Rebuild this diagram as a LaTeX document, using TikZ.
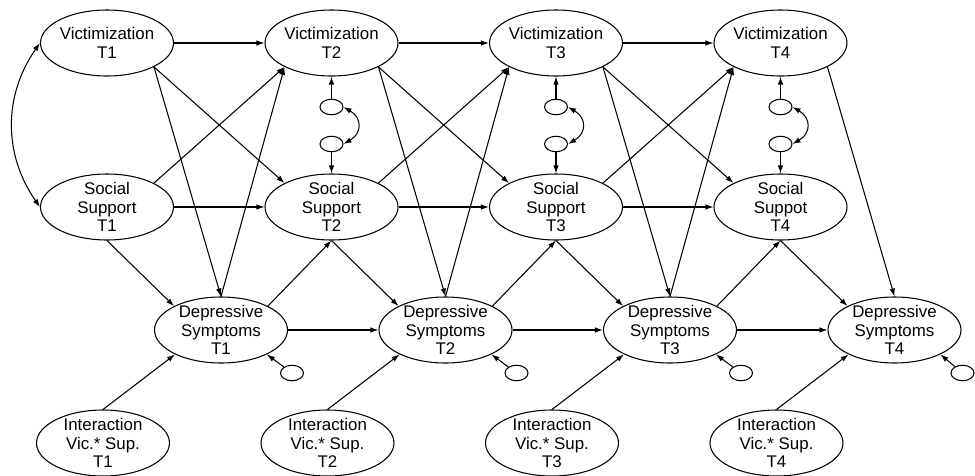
\documentclass[tikz,border=0pt]{standalone}
\usepackage{fontspec}
\setmainfont{Liberation Sans}
\usetikzlibrary{shapes.geometric,arrows.meta}
\tikzset{
	latent/.style={draw, ellipse, line width=0.6pt, inner xsep=-2pt, inner ysep=-4pt, minimum width=2.66cm, minimum height=1.32cm, align=center, font=\fontsize{9.6}{10.4}\selectfont},
	resid/.style={draw, ellipse, line width=0.6pt, inner sep=0pt, minimum width=0.46cm, minimum height=0.31cm},
	arr/.style={line width=0.6pt, -{Latex[length=1.6mm,width=1.1mm]}},
	covar/.style={line width=0.6pt, {Latex[length=1.6mm,width=1.1mm]}-{Latex[length=1.6mm,width=1.1mm]}}
}

\begin{document}
\begin{tikzpicture}
			%%%%% START %%%%%
			\useasboundingbox (0, 0) rectangle (19.5, -9.52);
			
			\node[latent] (vic1) at (2.14, -0.86) {Victimization\\T1};
			\node[latent] (vic2) at (6.63, -0.86) {Victimization\\T2};
			\node[latent] (vic3) at (11.12, -0.86) {Victimization\\T3};
			\node[latent] (vic4) at (15.61, -0.86) {Victimization\\T4};
			
			\node[latent] (sup1) at (2.14, -4.14) {Social\\Support\\T1};
			\node[latent] (sup2) at (6.63, -4.14) {Social\\Support\\T2};
			\node[latent] (sup3) at (11.12, -4.14) {Social\\Support\\T3};
			\node[latent] (sup4) at (15.61, -4.14) {Social\\Suppot\\T4};
			
			\node[latent] (dep1) at (4.42, -6.60) {Depressive\\Symptoms\\T1};
			\node[latent] (dep2) at (8.91, -6.60) {Depressive\\Symptoms\\T2};
			\node[latent] (dep3) at (13.40, -6.60) {Depressive\\Symptoms\\T3};
			\node[latent] (dep4) at (17.89, -6.60) {Depressive\\Symptoms\\T4};
			
			\node[latent] (int1) at (2.06, -8.86) {Interaction\\Vic.* Sup.\\T1};
			\node[latent] (int2) at (6.55, -8.86) {Interaction\\Vic.* Sup.\\T2};
			\node[latent] (int3) at (11.04, -8.86) {Interaction\\Vic.* Sup.\\T3};
			\node[latent] (int4) at (15.53, -8.86) {Interaction\\Vic.* Sup.\\T4};
			
			\node[resid] (ev2) at (6.63, -2.14) {};
			\node[resid] (es2) at (6.63, -2.88) {};
			\node[resid] (ev3) at (11.12, -2.14) {};
			\node[resid] (es3) at (11.12, -2.88) {};
			\node[resid] (ev4) at (15.61, -2.14) {};
			\node[resid] (es4) at (15.61, -2.88) {};
			
			\node[resid] (ed1) at (5.84, -7.46) {};
			\node[resid] (ed2) at (10.33, -7.46) {};
			\node[resid] (ed3) at (14.82, -7.46) {};
			\node[resid] (ed4) at (19.25, -7.46) {};
			
			% stability paths
			\draw[arr] (vic1) -- (vic2);
			\draw[arr] (vic2) -- (vic3);
			\draw[arr] (vic3) -- (vic4);
			\draw[arr] (sup1) -- (sup2);
			\draw[arr] (sup2) -- (sup3);
			\draw[arr] (sup3) -- (sup4);
			\draw[arr] (dep1) -- (dep2);
			\draw[arr] (dep2) -- (dep3);
			\draw[arr] (dep3) -- (dep4);
			
			% T1
			\draw[covar] (vic1.west) to[bend right=35] (sup1.west);
			\draw[arr] (vic1.-27) -- (sup2.153);
			\draw[arr] (sup1.27) -- (vic2.207);
			\draw[arr] (vic1.-27) -- (dep1.north);
			\draw[arr] (sup1.south) -- (dep1.153);
			\draw[arr] (dep1.north) -- (vic2.207);
			\draw[arr] (dep1.27) -- (sup2.south);
			\draw[arr] (int1.north) -- (dep1.208);
			\draw[arr] (ed1) -- (dep1.-28);
			
			% T2
			\draw[arr] (ev2) -- (vic2.south);
			\draw[arr] (es2) -- (sup2.north);
			\draw[covar] (ev2.east) to[out=-30, in=30, looseness=1.5] (es2.east);
			\draw[arr] (vic2.-27) -- (sup3.153);
			\draw[arr] (sup2.27) -- (vic3.207);
			\draw[arr] (vic2.-27) -- (dep2.north);
			\draw[arr] (sup2.south) -- (dep2.153);
			\draw[arr] (dep2.north) -- (vic3.207);
			\draw[arr] (dep2.27) -- (sup3.south);
			\draw[arr] (int2.north) -- (dep2.208);
			\draw[arr] (ed2) -- (dep2.-28);
			
			% T3
			\draw[arr] (ev3) -- (vic3.south);
			\draw[arr] (es3) -- (sup3.north);
			\draw[covar] (ev3.east) to[out=-30, in=30, looseness=1.5] (es3.east);
			\draw[arr] (vic3.-27) -- (sup4.153);
			\draw[arr] (sup3.27) -- (vic4.207);
			\draw[arr] (vic3.-27) -- (dep3.north);
			\draw[arr] (sup3.south) -- (dep3.153);
			\draw[arr] (dep3.north) -- (vic4.207);
			\draw[arr] (dep3.27) -- (sup4.south);
			\draw[arr] (int3.north) -- (dep3.208);
			\draw[arr] (ed3) -- (dep3.-28);
			
			% T4
			\draw[arr] (ev4) -- (vic4.south);
			\draw[arr] (es4) -- (sup4.north);
			\draw[covar] (ev4.east) to[out=-30, in=30, looseness=1.5] (es4.east);
			\draw[arr] (vic4.-27) -- (dep4.north);
			\draw[arr] (sup4.south) -- (dep4.153);
			\draw[arr] (int4.north) -- (dep4.208);
			\draw[arr] (ed4) -- (dep4.-28);
			%%%%% END %%%%%
\end{tikzpicture}
\end{document}
